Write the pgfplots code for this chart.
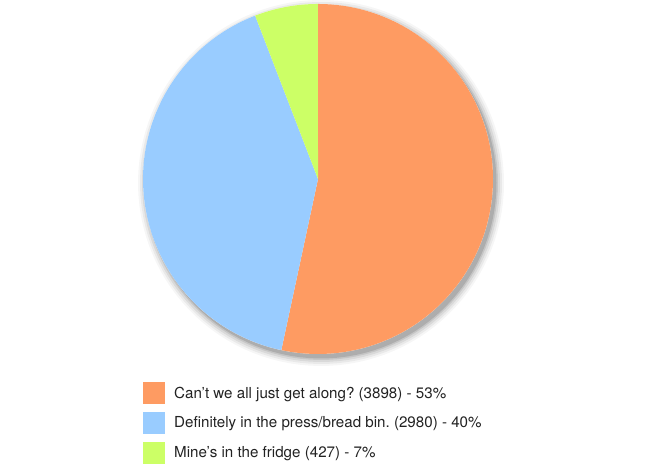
\documentclass[border=0pt]{standalone}
\usepackage{pgfplots}
\usepackage{pgfplotstable}
\pgfplotsset{compat=1.18}
\usepackage{fontspec}
\setmainfont{TeX Gyre Heros}

\definecolor{sliceA}{RGB}{254,155,98}
\definecolor{sliceB}{RGB}{153,204,255}
\definecolor{sliceC}{RGB}{204,255,102}
\definecolor{legendtext}{RGB}{34,34,34}

% poll answers and vote counts
\pgfplotstableread[col sep=comma]{
votes
3898
2980
427
}\votes

\pgfplotstablegetelem{0}{votes}\of\votes \let\vA\pgfplotsretval
\pgfplotstablegetelem{1}{votes}\of\votes \let\vB\pgfplotsretval
\pgfplotstablegetelem{2}{votes}\of\votes \let\vC\pgfplotsretval
\pgfmathsetmacro\total{\vA+\vB+\vC}
% slice boundaries, clockwise from twelve o'clock
\pgfmathsetmacro\aZero{90}
\pgfmathsetmacro\aOne{90-360*(\vA/\total)}
\pgfmathsetmacro\aTwo{\aOne-360*(\vB/\total)}
\pgfmathsetmacro\aThree{\aTwo-360*(\vC/\total)}

\def\cx{318}
\def\cy{288}
\def\R{175}

\pgfplotsset{
  shadowring/.style={draw=none, fill=black, fill opacity=#1, domain=0:360,
    samples=120, forget plot},
}

\begin{document}
\begin{tikzpicture}
\begin{axis}[
  scale only axis, width=650bp, height=463bp,
  xmin=0, xmax=650, ymin=0, ymax=463,
  hide axis, clip=false,
  legend style={at={(0.22,0.1836)}, anchor=north west, draw=none, fill=none,
    inner sep=0pt, row sep=8bp, text=legendtext,
    font=\fontsize{15.2}{16}\selectfont\frenchspacing,
    /tikz/every odd column/.append style={column sep=7bp}},
  legend cell align=left,
  legend image code/.code={\fill[#1] (0bp,-11bp) rectangle (22bp,11bp);},
]
% keep the full canvas in the bounding box
\path (axis cs:0,0) rectangle (axis cs:650,463);
% soft drop shadow
\addplot[shadowring=0.035] ({\cx+3+(\R+8)*cos(x)}, {\cy-4+(\R+8)*sin(x)});
\addplot[shadowring=0.05] ({\cx+3+(\R+6)*cos(x)}, {\cy-4+(\R+6)*sin(x)});
\addplot[shadowring=0.07] ({\cx+3+(\R+4)*cos(x)}, {\cy-4+(\R+4)*sin(x)});
\addplot[shadowring=0.09] ({\cx+3+(\R+2)*cos(x)}, {\cy-4+(\R+2)*sin(x)});
\addplot[shadowring=0.12] ({\cx+3+(\R+0.5)*cos(x)}, {\cy-4+(\R+0.5)*sin(x)});
\addplot[draw=none, fill=white, domain=0:360, samples=120, forget plot]
  ({\cx+\R*cos(x)}, {\cy+\R*sin(x)});
\addplot[draw=none, fill=sliceA, domain=\aOne:\aZero, samples=120]
  ({\cx+\R*cos(x)}, {\cy+\R*sin(x)}) -- (\cx,\cy) -- cycle;
\addlegendentry{Can't we all just get along? (3898) - 53\%}
\addplot[draw=none, fill=sliceB, domain=\aTwo:\aOne, samples=100]
  ({\cx+\R*cos(x)}, {\cy+\R*sin(x)}) -- (\cx,\cy) -- cycle;
\addlegendentry{Definitely in the press/bread bin. (2980) - 40\%}
\addplot[draw=none, fill=sliceC, domain=\aThree:\aTwo, samples=30]
  ({\cx+\R*cos(x)}, {\cy+\R*sin(x)}) -- (\cx,\cy) -- cycle;
\addlegendentry{Mine's in the fridge (427) - 7\%}
\end{axis}
\end{tikzpicture}
\end{document}
